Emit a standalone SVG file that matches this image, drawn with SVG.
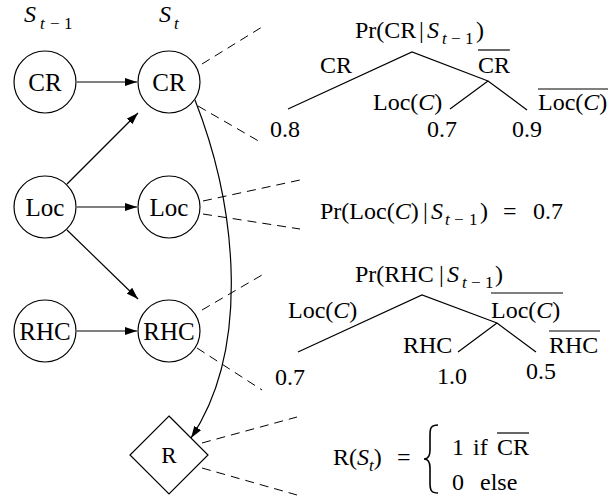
<svg xmlns="http://www.w3.org/2000/svg" width="610" height="502" viewBox="0 0 610 502" font-family="'Liberation Serif', 'DejaVu Serif', serif">
<style>
text{font-family:'Liberation Serif','DejaVu Serif',serif;font-size:24px;fill:#000}
.n{font-size:25px;text-anchor:middle}
.i{font-style:italic}
.s{font-size:17px}
.node{fill:#fff;stroke:#000;stroke-width:1.2}
.arr{fill:none;stroke:#000;stroke-width:1.2;marker-end:url(#ah)}
.dash{fill:none;stroke:#000;stroke-width:1;stroke-dasharray:9,6}
.tree{fill:none;stroke:#000;stroke-width:1.2}
.bar{stroke:#000;stroke-width:1.2}
</style>
<defs>
<marker id="ah" viewBox="0 0 12 8" refX="12" refY="4" markerWidth="12" markerHeight="8" markerUnits="userSpaceOnUse" orient="auto">
<path d="M0,0 L12,4 L0,8 Z" fill="#000"/>
</marker>
</defs>
<rect width="610" height="502" fill="#fff"/>

<g id="header">
<text x="24" y="22"><tspan class="i">S</tspan><tspan class="s i" x="40" y="29">t</tspan><tspan class="s" x="50" y="29">−</tspan><tspan class="s" x="64" y="29">1</tspan></text>
<text x="159" y="22"><tspan class="i">S</tspan><tspan class="s i" x="174" y="29">t</tspan></text>
</g>

<g id="connectors">
<line class="arr" x1="77" y1="82" x2="137" y2="82"/>
<line class="arr" x1="67" y1="184" x2="138" y2="113"/>
<line class="arr" x1="77" y1="207" x2="137" y2="207"/>
<line class="arr" x1="67" y1="230" x2="138" y2="299"/>
<line class="arr" x1="77" y1="331" x2="137" y2="331"/>
<path class="arr" d="M195,100 C238,210 250,350 191,438"/>
<line class="dash" x1="202" y1="64" x2="262" y2="27"/>
<line class="dash" x1="198" y1="106" x2="262" y2="143"/>
<line class="dash" x1="203" y1="201" x2="300" y2="180"/>
<line class="dash" x1="203" y1="214" x2="300" y2="229"/>
<line class="dash" x1="202" y1="310" x2="262" y2="275"/>
<line class="dash" x1="197" y1="348" x2="262" y2="390"/>
<line class="dash" x1="202" y1="443" x2="297" y2="417"/>
<line class="dash" x1="202" y1="468" x2="297" y2="495"/>
</g>

<g id="n-cr-prev"><circle class="node" cx="45" cy="82" r="31"/><text class="n" x="45" y="91">CR</text></g>
<g id="n-loc-prev"><circle class="node" cx="45" cy="207" r="31"/><text class="n" x="45" y="216">Loc</text></g>
<g id="n-rhc-prev"><circle class="node" cx="45" cy="331" r="31"/><text class="n" x="45" y="340">RHC</text></g>
<g id="n-cr"><circle class="node" cx="169" cy="82" r="31"/><text class="n" x="169" y="91">CR</text></g>
<g id="n-loc"><circle class="node" cx="169" cy="207" r="31"/><text class="n" x="169" y="216">Loc</text></g>
<g id="n-rhc"><circle class="node" cx="169" cy="331" r="31"/><text class="n" x="169" y="340">RHC</text></g>
<g id="n-r"><path class="node" d="M169,416 L208,455 L169,494 L130,455 Z"/><text class="n" x="169" y="463" style="font-size:23px">R</text></g>

<g id="tree-cr">
<text x="355" y="38">Pr(CR</text><text x="419" y="38">|</text><text class="i" x="427" y="38">S</text><text class="s" y="44"><tspan class="i" x="442">t</tspan><tspan x="451">−</tspan><tspan x="465">1</tspan></text><text x="476" y="38">)</text>
<path class="tree" d="M288,109 L412,52 L488,81 M450,109 L488,81 L527,110"/>
<text x="320" y="73">CR</text>
<text x="478" y="73">CR</text><line class="bar" x1="478" y1="50" x2="510" y2="50"/>
<text x="373" y="110">Loc(<tspan class="i">C</tspan>)</text>
<text x="538" y="110">Loc(<tspan class="i">C</tspan>)</text><line class="bar" x1="538" y1="89" x2="608" y2="89"/>
<text x="270" y="137">0.8</text>
<text x="427" y="137">0.7</text>
<text x="512" y="137">0.9</text>
</g>

<g id="eq-loc">
<text x="320" y="219">Pr(Loc(<tspan class="i">C</tspan>)</text><text x="423" y="219">|</text><text class="i" x="431" y="219">S</text><text class="s" y="225"><tspan class="i" x="445">t</tspan><tspan x="454">−</tspan><tspan x="469">1</tspan></text><text x="480" y="219">)</text>
<text x="503" y="219">=</text>
<text x="533" y="219">0.7</text>
</g>

<g id="tree-rhc">
<text x="355" y="282">Pr(RHC</text><text x="439" y="282">|</text><text class="i" x="447" y="282">S</text><text class="s" y="288"><tspan class="i" x="462">t</tspan><tspan x="471">−</tspan><tspan x="485">1</tspan></text><text x="495" y="282">)</text>
<path class="tree" d="M298,352 L422,295 L497,323 M458,352 L497,323 L536,352"/>
<text x="288" y="318">Loc(<tspan class="i">C</tspan>)</text>
<text x="491" y="318">Loc(<tspan class="i">C</tspan>)</text><line class="bar" x1="491" y1="293" x2="563" y2="293"/>
<text x="403" y="353">RHC</text>
<text x="549" y="353">RHC</text><line class="bar" x1="549" y1="331" x2="600" y2="331"/>
<text x="275" y="385">0.7</text>
<text x="437" y="384">1.0</text>
<text x="526" y="379">0.5</text>
</g>

<g id="eq-r">
<text x="333" y="465">R(<tspan class="i">S</tspan><tspan class="s i" dy="6">t</tspan><tspan dy="-6">)</tspan></text>
<text x="397" y="465">=</text>
<path d="M438,425 C431,425 430,428 430,435 L430,450 C430,456 428,459 424,459 C428,459 430,462 430,468 L430,483 C430,490 431,493 438,493" fill="none" stroke="#000" stroke-width="1.6"/>
<text x="452" y="455">1</text><text x="473" y="455">if</text><text x="497" y="455">CR</text><line class="bar" x1="497" y1="433" x2="529" y2="433"/>
<text x="452" y="490">0</text><text x="480" y="490">else</text>
</g>
</svg>
